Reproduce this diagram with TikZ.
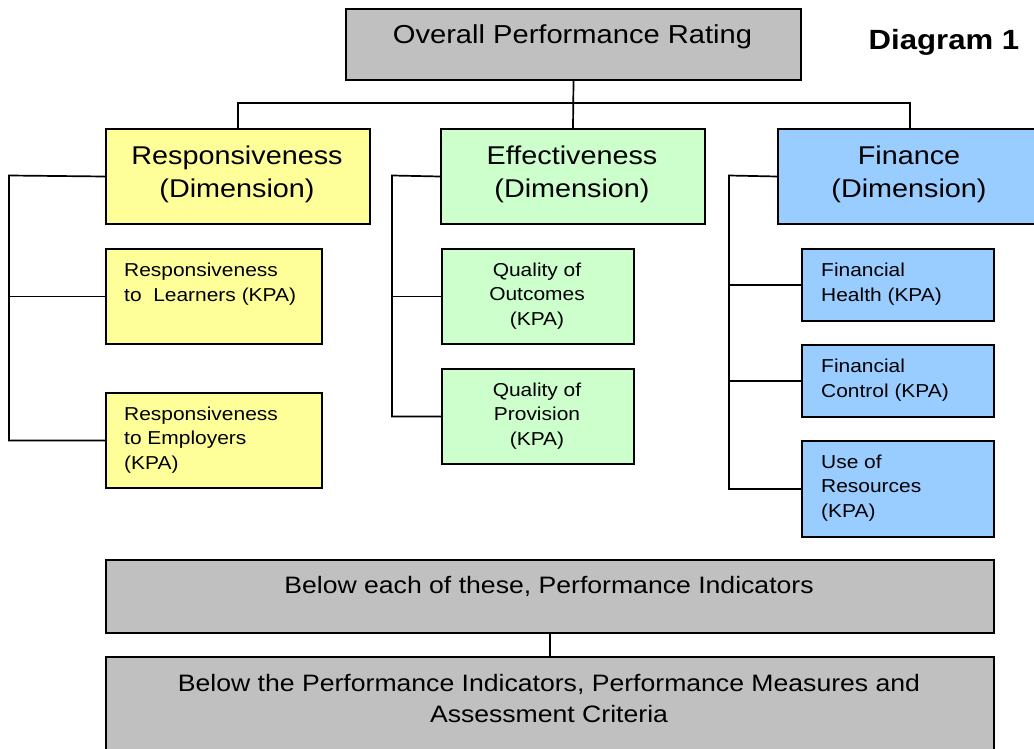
\documentclass[tikz,border=0pt]{standalone}
\usepackage{fontspec}
\setmainfont{Liberation Sans}[FakeStretch=1.12]
\definecolor{greyfill}{HTML}{C0C0C0}
\definecolor{yellowfill}{HTML}{FFFF99}
\definecolor{greenfill}{HTML}{CCFFCC}
\definecolor{bluefill}{HTML}{99CCFF}
\begin{document}
\begin{tikzpicture}[x=1pt,y=-1pt,
  box/.style={draw=black,line width=2pt,inner sep=0pt,anchor=north west},
  link/.style={draw=black,line width=1.7pt},
  toptext/.style={inner sep=0pt,font=\fontsize{26}{31}\selectfont},
  dimtext/.style={inner sep=0pt,align=center,font=\fontsize{25.7}{33}\selectfont},
  kpaleft/.style={inner sep=0pt,anchor=west,align=left,font=\fontsize{18.7}{24.5}\selectfont},
  kpamid/.style={inner sep=0pt,align=center,font=\fontsize{18.7}{24.5}\selectfont},
  bottext/.style={inner sep=0pt,align=center,font=\fontsize{23.75}{31}\selectfont}]
\useasboundingbox (0,0) rectangle (1034,749);
\clip (0,0) rectangle (1034,749);

% top level
\node[box,fill=greyfill,minimum width=455pt,minimum height=71pt] (top) at (345,8) {};
\node[toptext] (toplbl) at (572.5,37) {Overall Performance Rating};
\node[inner sep=0pt,font=\fontsize{27.8}{32}\selectfont\bfseries] (title) at (944,42) {Diagram 1};

% dimensions
\node[box,fill=yellowfill,minimum width=264pt,minimum height=95pt] (resp) at (105,128) {};
\node[box,fill=greenfill,minimum width=264pt,minimum height=95pt] (eff) at (440,128) {};
\node[box,fill=bluefill,minimum width=264pt,minimum height=95pt] (fin) at (777,128) {};
\node[dimtext] (resplbl) at (237,174) {Responsiveness\\(Dimension)};
\node[dimtext] (efflbl) at (572,174) {Effectiveness\\(Dimension)};
\node[dimtext] (finlbl) at (909,174) {Finance\\(Dimension)};

% key performance areas
\node[box,fill=yellowfill,minimum width=216pt,minimum height=95pt] (rl) at (105,248) {};
\node[box,fill=yellowfill,minimum width=216pt,minimum height=95pt] (re) at (105,392) {};
\node[box,fill=greenfill,minimum width=192pt,minimum height=95pt] (qo) at (441,248) {};
\node[box,fill=greenfill,minimum width=192pt,minimum height=95pt] (qp) at (441,368) {};
\node[box,fill=bluefill,minimum width=192pt,minimum height=72pt] (fh) at (801,248) {};
\node[box,fill=bluefill,minimum width=192pt,minimum height=72pt] (fc) at (801,344) {};
\node[box,fill=bluefill,minimum width=192pt,minimum height=96pt] (ur) at (801,440) {};

\node[kpaleft] (rllbl) at (124,284) {Responsiveness\\to~\ Learners (KPA)};
\node[kpaleft] (relbl) at (124,440) {Responsiveness\\to Employers\\(KPA)};
\node[kpamid] (qolbl) at (537,296) {Quality of\\Outcomes\\(KPA)};
\node[kpamid] (qplbl) at (537,416) {Quality of\\Provision\\(KPA)};
\node[kpaleft] (fhlbl) at (821,284) {Financial\\Health (KPA)};
\node[kpaleft] (fclbl) at (821,380) {Financial\\Control (KPA)};
\node[kpaleft] (urlbl) at (821,488) {Use of\\Resources\\(KPA)};

% lower levels
\node[box,fill=greyfill,minimum width=888pt,minimum height=73pt] (pi) at (105,559) {};
\node[box,fill=greyfill,minimum width=888pt,minimum height=120pt] (pm) at (105,656) {};
\node[bottext] (pilbl) at (549,586) {Below each of these, Performance Indicators};
\node[bottext] (pmlbl) at (549,699) {Below the Performance Indicators, Performance Measures and\\Assessment Criteria};

% connectors: top to dimensions
\coordinate (hub) at (572.5,103);
\draw[link] (top.south) -- (eff.north);
\draw[link] (resp.north) -- (resp.north |- hub) -- (fin.north |- hub) -- (fin.north);

% connectors: dimensions to key performance areas
\coordinate (rspine) at (9,175.5);
\draw[link] (resp.west) -- (rspine) |- (re.west);
\draw[link] (rspine |- rl.west) -- (rl.west);
\coordinate (espine) at (392,175.5);
\draw[link] (eff.west) -- (espine) |- (qp.west);
\draw[link] (espine |- qo.west) -- (qo.west);
\coordinate (fspine) at (729,175.5);
\draw[link] (fin.west) -- (fspine) |- (ur.west);
\draw[link] (fspine |- fh.west) -- (fh.west);
\draw[link] (fspine |- fc.west) -- (fc.west);

% indicators to measures
\draw[link] (pi.south) -- (pm.north);
\end{tikzpicture}
\end{document}
